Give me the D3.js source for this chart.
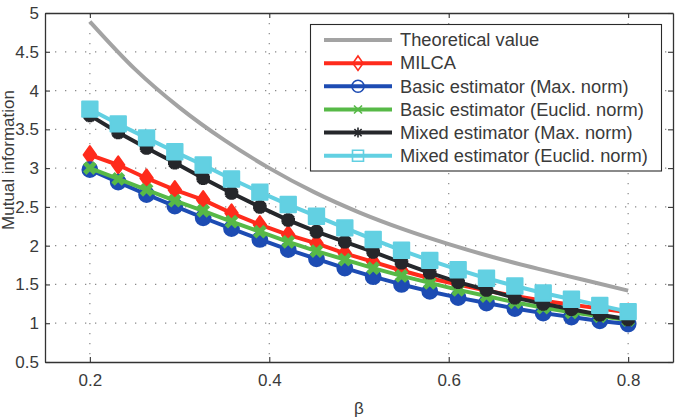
<!DOCTYPE html>
<html>
<head>
<meta charset="utf-8">
<script src="https://cdn.jsdelivr.net/npm/d3@7/dist/d3.min.js"></script>
<style>
  html, body { margin: 0; padding: 0; background: #fff; }
  svg { display: block; font-family: "Liberation Sans", Arial, Helvetica, sans-serif; }
</style>
</head>
<body>
<svg id="chart" width="681" height="417"></svg>
<script>
// ---- data ----
const beta = [0.2, 0.2316, 0.2632, 0.2947, 0.3263, 0.3579, 0.3895, 0.4211, 0.4526, 0.4842,
              0.5158, 0.5474, 0.5789, 0.6105, 0.6421, 0.6737, 0.7053, 0.7368, 0.7684, 0.8];
const betaTheory = [0.2, 0.25, 0.3, 0.35, 0.4, 0.45, 0.5, 0.55, 0.6, 0.65, 0.7, 0.75, 0.8];
const theoretical = [4.89, 4.28, 3.78, 3.36, 3.00, 2.69, 2.43, 2.21, 2.02, 1.85, 1.70, 1.56, 1.42];
const milca    = [3.17, 3.04, 2.87, 2.72, 2.59, 2.42, 2.27, 2.14, 2.03, 1.90, 1.79, 1.68, 1.58, 1.50, 1.42, 1.35, 1.29, 1.24, 1.19, 1.14];
const basicMax = [2.98, 2.82, 2.66, 2.51, 2.36, 2.22, 2.08, 1.95, 1.83, 1.71, 1.60, 1.50, 1.41, 1.33, 1.26, 1.19, 1.13, 1.08, 1.03, 0.99];
const basicEuc = [3.00, 2.86, 2.72, 2.58, 2.45, 2.31, 2.18, 2.05, 1.93, 1.82, 1.71, 1.61, 1.52, 1.43, 1.35, 1.27, 1.20, 1.14, 1.09, 1.04];
const mixedMax = [3.68, 3.46, 3.26, 3.07, 2.87, 2.68, 2.50, 2.33, 2.18, 2.05, 1.92, 1.78, 1.65, 1.53, 1.43, 1.33, 1.25, 1.18, 1.11, 1.05];
const mixedEuc = [3.76, 3.57, 3.39, 3.21, 3.04, 2.86, 2.69, 2.53, 2.38, 2.23, 2.08, 1.94, 1.81, 1.69, 1.58, 1.48, 1.39, 1.31, 1.23, 1.15];
const xTicks = [0.2, 0.4, 0.6, 0.8];
const yTicks = [0.5, 1, 1.5, 2, 2.5, 3, 3.5, 4, 4.5, 5];
const seriesNames = ["Theoretical value", "MILCA", "Basic estimator (Max. norm)",
                     "Basic estimator (Euclid. norm)", "Mixed estimator (Max. norm)", "Mixed estimator (Euclid. norm)"];
const seriesColors = ["#a3a3a3", "#ff2b1c", "#1d4cb3", "#57b947", "#25272b", "#62d0e2"];
const seriesMarkers = ["none", "diamond", "circle", "x", "asterisk", "square"];
const xLabel = "β";
const yLabel = "Mutual information";

// ---- layout ----
const svg = d3.select("#chart");
const L = 45, R = 673, T = 13, B = 362;
const x = d3.scaleLinear().domain([0.15, 0.85]).range([L, R]);
const y = d3.scaleLinear().domain([0.5, 5]).range([B, T]);

// grid
const grid = svg.append("g").attr("stroke", "#8a8a8a").attr("stroke-width", 1.2)
  .attr("stroke-dasharray", "1.3,8.7");
grid.selectAll("line.v").data(xTicks).join("line")
  .attr("x1", d => x(d)).attr("x2", d => x(d)).attr("y1", T).attr("y2", B);
grid.selectAll("line.h").data(yTicks.slice(1, -1)).join("line")
  .attr("x1", L).attr("x2", R).attr("y1", d => y(d)).attr("y2", d => y(d));

// series data
const allSeries = [
  betaTheory.map((b, i) => [b, theoretical[i]]),
  beta.map((b, i) => [b, milca[i]]),
  beta.map((b, i) => [b, basicMax[i]]),
  beta.map((b, i) => [b, basicEuc[i]]),
  beta.map((b, i) => [b, mixedMax[i]]),
  beta.map((b, i) => [b, mixedEuc[i]])
];

function markerPath(type, s) {
  switch (type) {
    case "diamond": return `M0,${-s*1.2}L${s*0.85},0L0,${s*1.2}L${-s*0.85},0Z`;
    case "circle": return d3.symbol(d3.symbolCircle, Math.PI * s * s)();
    case "square": return `M${-s},${-s}H${s}V${s}H${-s}Z`;
    case "x": return `M${-s},${-s}L${s},${s}M${s},${-s}L${-s},${s}`;
    case "asterisk": return `M${-s},0H${s}M0,${-s}V${s}M${-s*0.72},${-s*0.72}L${s*0.72},${s*0.72}M${s*0.72},${-s*0.72}L${-s*0.72},${s*0.72}`;
  }
  return "";
}
const plotSize = {diamond: 7.3, circle: 7.4, square: 7.7, x: 5.2, asterisk: 6.8};

const line = d3.line().x(d => x(d[0])).y(d => y(d[1]));
const lineSmooth = d3.line().x(d => x(d[0])).y(d => y(d[1])).curve(d3.curveMonotoneX);

const plot = svg.append("g");
allSeries.forEach((data, si) => {
  const col = seriesColors[si];
  const g = plot.append("g");
  g.append("path").datum(data)
    .attr("d", si === 0 ? lineSmooth : line)
    .attr("fill", "none").attr("stroke", col).attr("stroke-width", 4)
    .attr("stroke-linejoin", "round");
  const m = seriesMarkers[si];
  if (m !== "none") {
    const filled = (m === "diamond" || m === "circle" || m === "square");
    g.selectAll("path.mk").data(data).join("path")
      .attr("transform", d => `translate(${x(d[0])},${y(d[1])})`)
      .attr("d", markerPath(m, plotSize[m]))
      .attr("fill", filled ? col : "none")
      .attr("stroke", col)
      .attr("stroke-width", filled ? 2 : 4.8)
      .attr("stroke-linejoin", "round");
  }
});

// axes (box with inward ticks)
const axColor = "#333";
const fs = 17;
const gB = svg.append("g").attr("transform", `translate(0,${B})`)
  .call(d3.axisBottom(x).tickValues(xTicks).tickSizeInner(-5).tickSizeOuter(0).tickPadding(12).tickFormat(d => String(d)));
const gT = svg.append("g").attr("transform", `translate(0,${T})`)
  .call(d3.axisTop(x).tickValues(xTicks).tickSizeInner(-5).tickSizeOuter(0).tickFormat(""));
const gL = svg.append("g").attr("transform", `translate(${L},0)`)
  .call(d3.axisLeft(y).tickValues(yTicks).tickSizeInner(-5).tickSizeOuter(0).tickPadding(6).tickFormat(d => String(d)));
const gR = svg.append("g").attr("transform", `translate(${R},0)`)
  .call(d3.axisRight(y).tickValues(yTicks).tickSizeInner(-5).tickSizeOuter(0).tickFormat(""));
[gB, gT, gL, gR].forEach(g => {
  g.select(".domain").attr("stroke", axColor).attr("stroke-width", 1.3);
  g.selectAll(".tick line").attr("stroke", axColor).attr("stroke-width", 1.1);
  g.selectAll(".tick text").attr("fill", "#3a3a3a").style("font-size", fs + "px")
    .style("font-family", "'Liberation Sans', Arial, sans-serif");
});

// axis labels
svg.append("text").attr("x", (L + R) / 2).attr("y", 414).attr("text-anchor", "middle")
  .attr("fill", "#3a3a3a").style("font-size", "17px").text(xLabel);
svg.append("text").attr("transform", "translate(14,160) rotate(-90)").attr("text-anchor", "middle")
  .attr("fill", "#3a3a3a").style("font-size", "17px").text(yLabel);

// legend
const lg = svg.append("g");
lg.append("rect").attr("x", 310.5).attr("y", 24.5).attr("width", 351).attr("height", 146.5)
  .attr("fill", "#fff").attr("stroke", "#2a2a2a").attr("stroke-width", 1.1);
const legSize = {diamond: 6, circle: 6, square: 5.5, x: 4, asterisk: 5};
seriesNames.forEach((name, i) => {
  const cy = 40 + i * 23.15;
  const col = seriesColors[i];
  lg.append("line").attr("x1", 324).attr("x2", 392).attr("y1", cy).attr("y2", cy)
    .attr("stroke", col).attr("stroke-width", 4);
  const m = seriesMarkers[i];
  if (m !== "none") {
    lg.append("path").attr("transform", `translate(358,${cy})`)
      .attr("d", markerPath(m, legSize[m]))
      .attr("fill", "none").attr("stroke", col).attr("stroke-width", 1.6);
  }
  lg.append("text").attr("x", 400).attr("y", cy + 6.3).attr("fill", "#3a3a3a")
    .style("font-size", "18.3px").text(name);
});
</script>
</body>
</html>
